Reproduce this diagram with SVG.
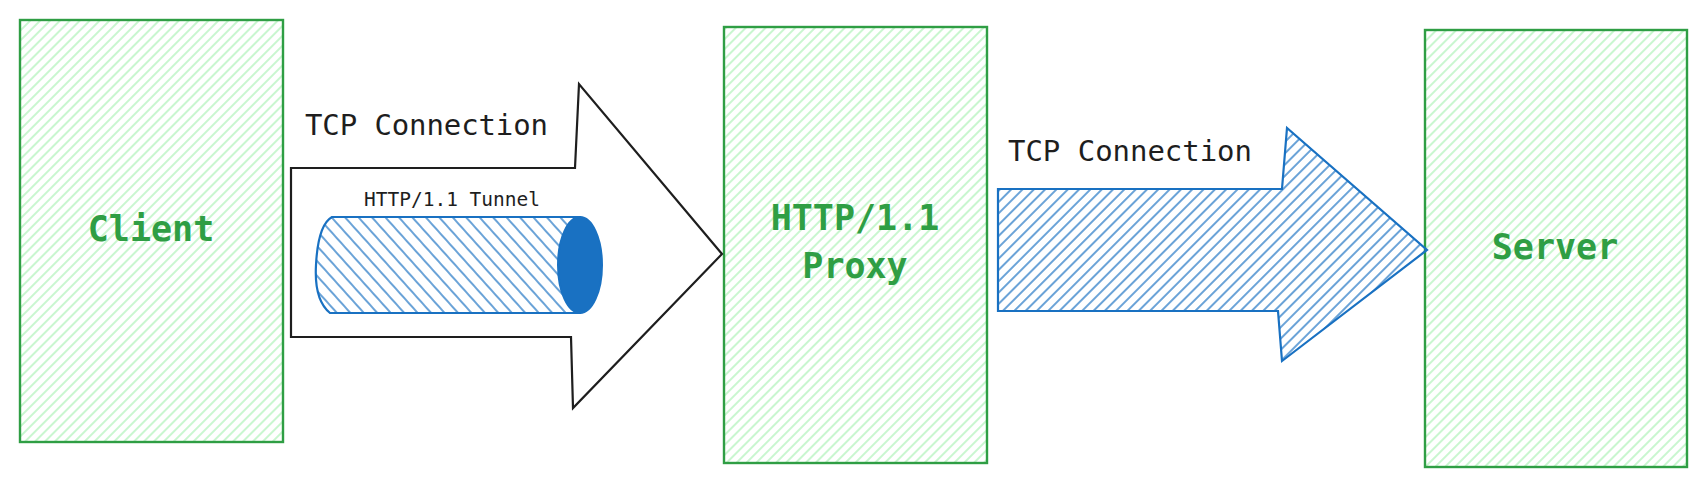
<svg xmlns="http://www.w3.org/2000/svg" width="1707" height="487" viewBox="0 0 1707 487">
<defs>
<pattern id="hg" width="7" height="7" patternUnits="userSpaceOnUse" patternTransform="rotate(45)">
<line x1="1" y1="0" x2="1" y2="7" stroke="#b2f2bb" stroke-width="1.4"/>
</pattern>
<pattern id="hb" width="8" height="8" patternUnits="userSpaceOnUse" patternTransform="rotate(45)">
<line x1="1" y1="0" x2="1" y2="8" stroke="#1971c2" stroke-width="1.3"/>
</pattern>
<pattern id="hbt" width="10" height="10" patternUnits="userSpaceOnUse" patternTransform="rotate(-42)">
<line x1="1" y1="0" x2="1" y2="10" stroke="#1971c2" stroke-width="1.3"/>
</pattern>
<style>
.box{fill:url(#hg);stroke:#2f9e44;stroke-width:2.4}
.lbl{font-family:"DejaVu Sans Mono","Liberation Mono",monospace;font-weight:bold;fill:#2f9e44;font-size:35px;text-anchor:middle}
.t{font-family:"DejaVu Sans Mono","Liberation Mono",monospace;fill:#1e1e1e}
</style>
</defs>
<rect width="1707" height="487" fill="#ffffff"/>
<g id="client">
<rect class="box" x="20" y="20" width="263" height="422"/>
<text class="lbl" x="151" y="241">Client</text>
</g>
<g id="proxy">
<rect class="box" x="724" y="27" width="263" height="436"/>
<text class="lbl" x="855" y="230">HTTP/1.1</text>
<text class="lbl" x="855" y="278">Proxy</text>
</g>
<g id="server">
<rect class="box" x="1425" y="30" width="262" height="437"/>
<text class="lbl" x="1555" y="259">Server</text>
</g>
<g id="connectors">
<g id="tcp-client-proxy">
<path d="M291,168 L575,168 L579,84 L722,254 L573,408 L571,337 L291,337 Z" fill="#ffffff" stroke="#1e1e1e" stroke-width="2.2" stroke-linejoin="miter"/>
<text class="t" x="305" y="135" font-size="29" textLength="243">TCP Connection</text>
</g>
<g id="tunnel">
<path d="M332,217 L580,217 L580,313 L330,313 Q314,300 316,265 Q318,225 332,217 Z" fill="url(#hbt)" stroke="#1971c2" stroke-width="2.2"/>
<ellipse cx="580" cy="265" rx="22" ry="48" fill="#1971c2" stroke="#1971c2" stroke-width="2"/>
<text class="t" x="364" y="206" font-size="19.5" textLength="176">HTTP/1.1 Tunnel</text>
</g>
<g id="tcp-proxy-server">
<path d="M998,189 L1282,189 L1287,128 L1427,250 L1282,361 L1278,311 L998,311 Z" fill="url(#hb)" stroke="#1971c2" stroke-width="2.2" stroke-linejoin="miter"/>
<text class="t" x="1008" y="161" font-size="29" textLength="244">TCP Connection</text>
</g>
</g>
</svg>
